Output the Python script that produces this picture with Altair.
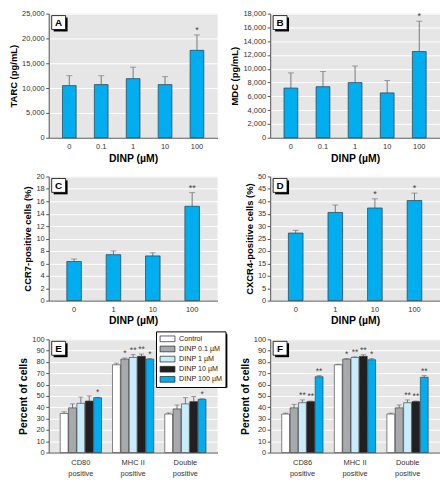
import altair as alt
import pandas as pd

FONT = "Liberation Sans, Arial, sans-serif"
BLUE = "#00aeef"
BAR_STROKE = "#2b3a42"
ERR = "#7a7a7a"
BG = "#e6e6e6"
STAR = "#444444"

# ---- data ----
doses5 = ["0", "0.1", "1", "10", "100"]
doses4 = ["0", "1", "10", "100"]

tarc_mean = [10500, 10700, 11900, 10700, 17600]
tarc_upper = [12500, 12500, 14200, 12300, 20700]
tarc_sig = ["", "", "", "", "*"]

mdc_mean = [7200, 7400, 8000, 6500, 12500]
mdc_upper = [9400, 9600, 10400, 8300, 16900]
mdc_sig = ["", "", "", "", "*"]

ccr7_mean = [6.3, 7.4, 7.2, 15.2]
ccr7_upper = [6.7, 8.0, 7.7, 17.4]
ccr7_sig = ["", "", "", "**"]

cxcr4_mean = [27.2, 35.5, 37.3, 40.3]
cxcr4_upper = [28.3, 38.5, 41.0, 43.3]
cxcr4_sig = ["", "", "*", "*"]

series = ["Control", "DINP 0.1 µM", "DINP 1 µM", "DINP 10 µM", "DINP 100 µM"]
series_colors = ["#ffffff", "#a7a9ac", "#c9ecfb", "#231f20", "#00aeef"]

groups_e = ["CD80 positive", "MHC II positive", "Double positive"]
e_mean = [[34.5, 39.5, 43.5, 45.5, 48.5], [77.5, 82.5, 84.0, 85.0, 82.5], [34.0, 38.5, 43.0, 45.0, 47.0]]
e_upper = [[36.0, 43.0, 49.0, 50.0, 48.8], [79.0, 83.5, 86.5, 87.0, 83.0], [35.0, 42.0, 48.5, 49.5, 47.5]]
e_sig = [["", "", "", "", "*"], ["", "*", "**", "**", "*"], ["", "", "", "", "*"]]

groups_f = ["CD86 positive", "MHC II positive", "Double positive"]
f_mean = [[34.0, 39.5, 44.0, 45.0, 67.0], [77.5, 82.5, 84.0, 85.0, 82.0], [34.0, 39.5, 44.0, 45.0, 66.5]]
f_upper = [[34.8, 42.5, 46.5, 45.5, 68.0], [78.0, 83.0, 84.5, 86.5, 83.0], [34.8, 42.0, 46.5, 45.5, 68.0]]
f_sig = [["", "", "**", "**", "**"], ["", "*", "**", "**", "*"], ["", "", "**", "**", "**"]]

W1, W2 = 170, 171
H1, H2, H3 = 125, 125, 114
LEG_X, LEG_Y, LEG_W, LEG_H = 108, -8, 69.4, 54.3


def label_box(letter):
    d = alt.Data(values=[{"p": letter}])
    shadow = alt.Chart(d).mark_rect(fill="black").encode(
        x=alt.value(5), x2=alt.value(19), y=alt.value(4), y2=alt.value(18))
    box = alt.Chart(d).mark_rect(fill="white", stroke="black", strokeWidth=0.8).encode(
        x=alt.value(3), x2=alt.value(17), y=alt.value(2), y2=alt.value(16))
    txt = alt.Chart(d).mark_text(font=FONT, fontWeight="bold", fontSize=10, baseline="middle",
                                 align="center").encode(
        x=alt.value(10), y=alt.value(9.5), text="p:N", color=alt.value("black"))
    return [shadow, box, txt]


def single_panel(cats, mean, upper, sig, ytitle, ymax, ystep, letter, w, h, pi, po, fmt):
    df = pd.DataFrame({"dose": cats, "mean": mean, "upper": upper, "sig": sig})
    X = alt.X("dose:N", sort=cats, title="DINP (µM)",
              scale=alt.Scale(paddingInner=pi, paddingOuter=po),
              axis=alt.Axis(labelAngle=0, ticks=False, titleFontSize=10.5))
    ysc = alt.Scale(domain=[0, ymax], nice=False)
    yax = alt.Axis(values=list(range(0, ymax + 1, ystep)), format=fmt)

    def Y(f):
        return alt.Y(f"{f}:Q", scale=ysc, axis=yax, title=ytitle)

    base = alt.Chart(df)
    err = base.mark_rule(color=ERR, strokeWidth=1).encode(x=X, y=Y("mean"), y2="upper:Q")
    cap = base.mark_tick(color=ERR, size=6, thickness=1).encode(x=X, y=Y("upper"))
    bars = base.mark_bar(color=BLUE, stroke=BAR_STROKE, strokeWidth=0.7).encode(x=X, y=Y("mean"))
    stars = base.mark_text(font=FONT, fontSize=9, baseline="middle", dy=-5).encode(
        x=X, y=Y("upper"), text="sig:N", color=alt.value(STAR))
    return alt.layer(err, cap, bars, stars, *label_box(letter)).properties(width=w, height=h)


def grouped_panel(groups, means, uppers, sigs, letter, w, h, with_legend):
    rows = []
    for g, m, u, s in zip(groups, means, uppers, sigs):
        for ser, mm, uu, ss, col in zip(series, m, u, s, series_colors):
            rows.append({"group": g, "series": ser, "mean": mm, "upper": uu, "sig": ss, "col": col})
    df = pd.DataFrame(rows)
    X = alt.X("group:N", sort=groups, title=None,
              scale=alt.Scale(paddingInner=0.21, paddingOuter=0.22),
              axis=alt.Axis(labelAngle=0, ticks=False, labelLineHeight=11, labelPadding=6,
                            labelExpr="[replace(datum.label, ' positive', ''), 'positive']"))
    XO = alt.XOffset("series:N", sort=series, scale=alt.Scale(paddingInner=0.06))
    ysc = alt.Scale(domain=[0, 100], nice=False)
    yax = alt.Axis(values=list(range(0, 101, 10)), titleFontSize=10.5)

    def Y(f):
        return alt.Y(f"{f}:Q", scale=ysc, axis=yax, title="Percent of cells")

    base = alt.Chart(df)
    err = base.mark_rule(color=ERR, strokeWidth=1).encode(x=X, xOffset=XO, y=Y("mean"), y2="upper:Q")
    cap = base.mark_tick(color=ERR, size=5, thickness=1).encode(x=X, xOffset=XO, y=Y("upper"))
    layers = [err, cap]
    if with_legend:
        fill = alt.Color("series:N", sort=series,
                         scale=alt.Scale(domain=series, range=series_colors),
                         legend=alt.Legend(title=None, orient="none", legendX=LEG_X, legendY=LEG_Y,
                                           fillColor="white", strokeColor="black",
                                           padding=3,
                                           symbolType="M-0.84,-0.72H2.9V0.72H-0.84Z", symbolSize=64,
                                           symbolStrokeColor="#222", symbolStrokeWidth=0.7,
                                           labelFont=FONT, labelFontSize=7.2, labelColor="#222",
                                           rowPadding=1.2, labelOffset=11.3))
        d = alt.Data(values=[{"p": 1}])
        layers.append(alt.Chart(d).mark_rect(fill="black", clip=False).encode(
            x=alt.value(LEG_X + 2.5), x2=alt.value(LEG_X + LEG_W + 2.5),
            y=alt.value(LEG_Y + 2.5), y2=alt.value(LEG_Y + LEG_H + 2.5)))
    else:
        fill = alt.Color("col:N", scale=None)
    bars = base.mark_bar(stroke="#333", strokeWidth=0.6).encode(x=X, xOffset=XO, y=Y("mean"), color=fill)
    stars = base.mark_text(font=FONT, fontSize=8.5, baseline="middle", dy=-5).encode(
        x=X, xOffset=XO, y=Y("upper"), text="sig:N", color=alt.value(STAR))
    return alt.layer(*layers, bars, stars, *label_box(letter)).properties(width=w, height=h)


pA = single_panel(doses5, tarc_mean, tarc_upper, tarc_sig, "TARC (pg/mL)", 25000, 5000, "A", W1, H1, 0.57, 0.43, ",.0f")
pB = single_panel(doses5, mdc_mean, mdc_upper, mdc_sig, "MDC (pg/mL)", 18000, 2000, "B", W2, H1, 0.57, 0.43, ",.0f")
pC = single_panel(doses4, ccr7_mean, ccr7_upper, ccr7_sig, "CCR7-positive cells (%)", 20, 2, "C", W1, H2, 0.63, 0.46, "d")
pD = single_panel(doses4, cxcr4_mean, cxcr4_upper, cxcr4_sig, "CXCR4-positive cells (%)", 50, 5, "D", W2, H2, 0.63, 0.46, "d")
pE = grouped_panel(groups_e, e_mean, e_upper, e_sig, "E", W1, H3, True)
pF = grouped_panel(groups_f, f_mean, f_upper, f_sig, "F", W2, H3, False)

chart = alt.concat(pA, pB, pC, pD, pE, pF, columns=2, spacing={"row": 39, "column": 53},
                   bounds="flush").resolve_scale(
    color="independent").resolve_legend(color="independent").properties(padding=0).configure_view(
    fill=BG, strokeWidth=0).configure_axis(
    labelFont=FONT, titleFont=FONT, labelFontSize=7.5, titleFontSize=9.5, labelColor="#333",
    titleColor="black", titleFontWeight="bold", domainColor="#555", domainWidth=1,
    gridColor="white", gridWidth=1, tickColor="#555", tickSize=3, labelPadding=1.5, titlePadding=3
).configure_axisX(grid=False, labelPadding=5, titlePadding=3).configure_legend(strokeWidth=1)

chart.save("out.html", embed_options={"renderer": "svg", "actions": False})
